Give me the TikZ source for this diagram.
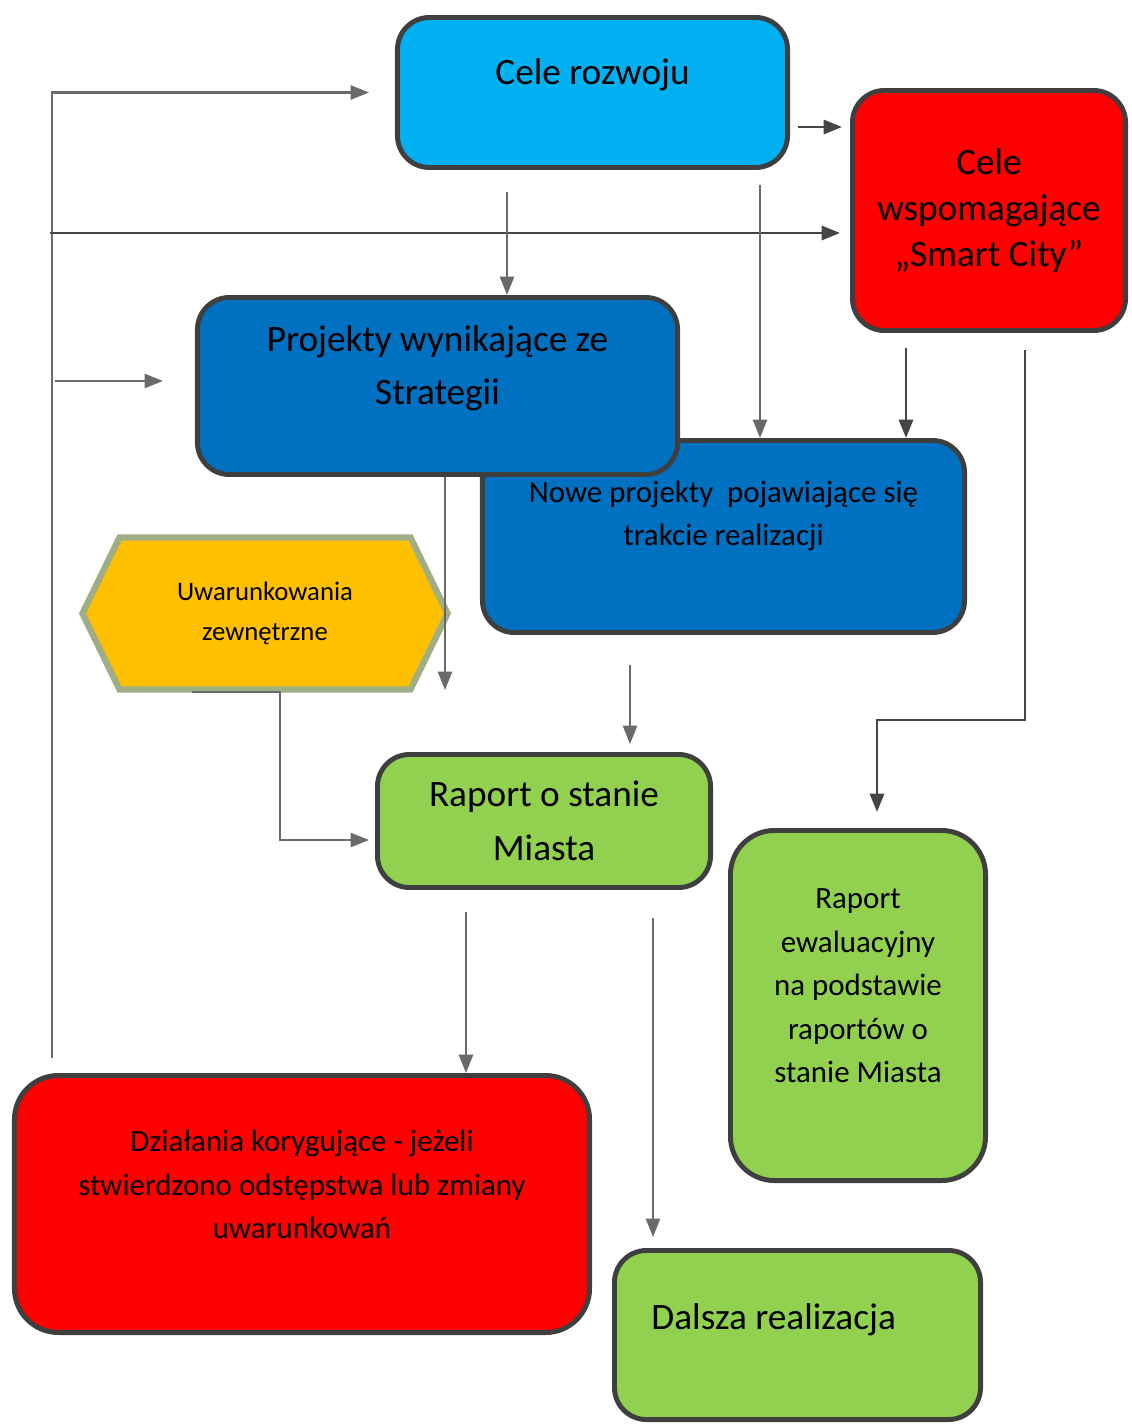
\documentclass[tikz,border=0pt]{standalone}
\usepackage{fontspec}
\setmainfont{Carlito}
\usetikzlibrary{arrows.meta,shapes.symbols}
\definecolor{skyblue}{HTML}{00B0F0}
\definecolor{deepblue}{HTML}{0070C0}
\definecolor{alarmred}{HTML}{FF0000}
\definecolor{leafgreen}{HTML}{92D050}
\definecolor{amber}{HTML}{FFC000}
\definecolor{hexline}{HTML}{A0AE86}
\definecolor{boxline}{HTML}{3F3F3F}
\definecolor{linegray}{HTML}{6A6A6A}
\definecolor{linedark}{HTML}{454545}

\begin{document}
\begin{tikzpicture}[x=0.025cm, y=-0.025cm,
	box/.style={draw=boxline, line width=3.5pt, rounded corners=0.8cm, align=center, inner sep=0pt},
	big/.style={font=\fontsize{26.5}{32.5}\selectfont},
	mid/.style={font=\fontsize{22}{31}\selectfont},
	arr/.style={draw=linegray, line width=1.5pt, -{Triangle[length=13pt,width=10pt]}},
	arrdark/.style={arr, draw=linedark, line width=2pt}]
	\useasboundingbox (0,0) rectangle (1131,1425);
	% boxes
	\node[box, fill=skyblue, minimum width=9.75cm, minimum height=3.75cm, big, text depth=30pt] (rozwoj) at (592.5,92.5) {Cele rozwoju};
	\node[box, fill=alarmred, minimum width=6.825cm, minimum height=6cm, big] (smart) at (989,210.5) {Cele\\wspomagające\\„Smart City”};
	\node[box, fill=deepblue, minimum width=12.05cm, minimum height=4.8cm, mid, text depth=33pt] (nowe) at (723.5,536.5) {Nowe projekty\ \ pojawiające się\\trakcie realizacji};
	\node[box, fill=deepblue, minimum width=12cm, minimum height=4.425cm, font=\fontsize{26.5}{38}\selectfont, text depth=30pt] (projekty) at (437.5,386) {Projekty wynikające ze\\Strategii};
	\node[signal, signal to=west and east, signal pointer angle=128, draw=hexline, line width=4.5pt, fill=amber, minimum width=9.125cm, minimum height=3.8cm, align=center, inner sep=0pt, font=\fontsize{19}{28}\selectfont] (hex) at (265,613.5) {Uwarunkowania\\zewnętrzne};
	\node[box, fill=leafgreen, minimum width=8.325cm, minimum height=3.325cm, font=\fontsize{26.5}{38}\selectfont] (stan) at (544,821) {Raport o stanie\\Miasta};
	\node[box, fill=leafgreen, minimum width=6.375cm, minimum height=8.75cm, mid, text depth=28pt, rounded corners=1.1cm] (ewal) at (858,1005.5) {Raport\\ewaluacyjny\\na podstawie\\raportów o\\stanie Miasta};
	\node[box, fill=alarmred, minimum width=14.375cm, minimum height=6.425cm, mid, text depth=28pt, rounded corners=1.1cm] (dzial) at (302,1204) {Działania korygujące - jeżeli\\stwierdzono odstępstwa lub zmiany\\uwarunkowań};
	\node[box, fill=leafgreen, minimum width=9.15cm, minimum height=4.225cm, big, text width=7.3cm, align=flush left, text depth=26pt] (dalsza) at (797.5,1335) {Dalsza realizacja};
	% connectors
	\coordinate (back) at (52,1058);
	\draw[arr, shorten >=0.65cm] (back) |- (rozwoj.west);
	\coordinate (in2) at (50,233);
	\draw[arrdark, shorten >=0.25cm] (in2) -- (in2 -| smart.west);
	\coordinate (in3) at (55,381);
	\draw[arr, shorten >=0.8cm] (in3) -- (in3 -| projekty.west);
	\coordinate (o4) at (798,127);
	\draw[arrdark, shorten >=0.2cm] (o4) -- (o4 -| smart.west);
	\coordinate (o5) at (507,192);
	\draw[arr] (o5) -- (o5 |- projekty.north);
	\coordinate (o6) at (760,185);
	\draw[arr] (o6) -- (o6 |- nowe.north);
	\coordinate (o7) at (906,348);
	\draw[arrdark] (o7) -- (o7 |- nowe.north);
	\coordinate (o8) at (1025,350);
	\coordinate (k8) at (877,720);
	\draw[arrdark, shorten >=0.4cm] (o8) |- (k8) -- (k8 |- ewal.north);
	\coordinate (e9) at (445,690);
	\draw[arr] (projekty.south -| e9) -- (e9);
	\coordinate (o10) at (630,665);
	\draw[arr, shorten >=0.2cm] (o10) -- (o10 |- stan.north);
	\coordinate (h11) at (192,692);
	\coordinate (k11) at (280,840);
	\draw[arr, shorten >=0.15cm] (h11) -| (k11) -- (k11 -| stan.west);
	\coordinate (o12) at (466,912);
	\draw[arr] (o12) -- (o12 |- dzial.north);
	\coordinate (o13) at (653,918);
	\draw[arr, shorten >=0.275cm] (o13) -- (o13 |- dalsza.north);
\end{tikzpicture}
\end{document}
